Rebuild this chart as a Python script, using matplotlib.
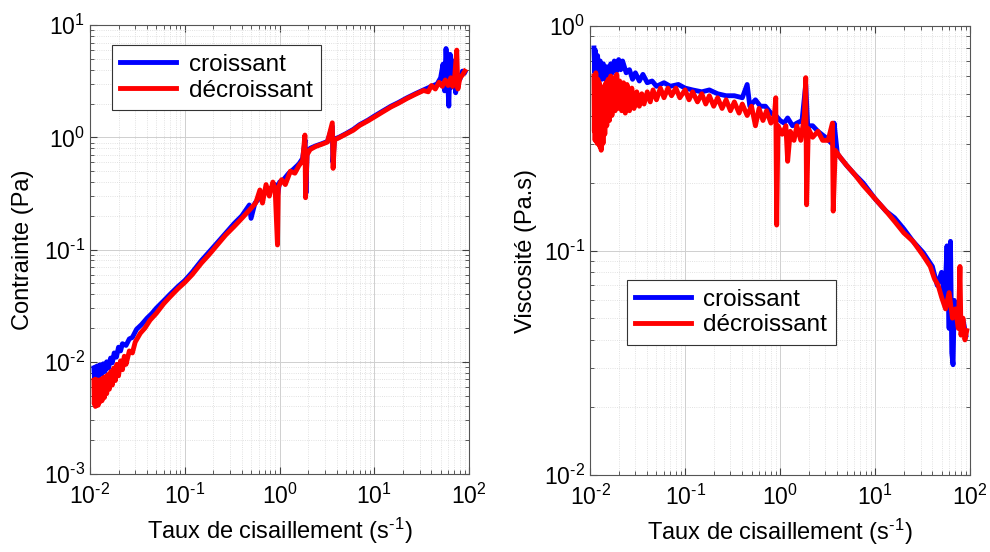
import matplotlib
matplotlib.use("Agg")
import numpy as np
import matplotlib.pyplot as plt
from matplotlib.ticker import LogLocator, NullFormatter, FuncFormatter

plt.rcParams['font.family'] = ['Liberation Sans', 'DejaVu Sans']
plt.rcParams['mathtext.fontset'] = 'custom'
plt.rcParams['mathtext.rm'] = 'Liberation Sans'
plt.rcParams['mathtext.it'] = 'Liberation Sans'
plt.rcParams['axes.unicode_minus'] = False

# contrainte, montée (croissant)
x_sc = [0.0110, 0.0112, 0.0114, 0.0117, 0.0120, 0.0124, 0.0128, 0.0133, 0.0138, 0.0144,
        0.0150, 0.0157, 0.0165, 0.0172, 0.0180, 0.0190, 0.020, 0.021, 0.022, 0.024,
        0.026, 0.028, 0.031, 0.035, 0.040, 0.045, 0.050, 0.060, 0.070, 0.085,
        0.10, 0.12, 0.15, 0.18, 0.22, 0.27, 0.33, 0.40, 0.48, 0.50,
        0.55, 0.62, 0.70, 0.80, 0.90, 0.95, 1.0, 1.1, 1.25, 1.4,
        1.6, 1.75, 1.86, 1.90, 1.95, 2.1, 2.4, 2.8, 3.2, 3.6,
        3.65, 3.8, 4.2, 5.0, 6.0, 7.0, 8.5, 10, 12, 15,
        18, 22, 27, 33, 40, 46, 50, 53, 55, 57,
        59, 61, 63, 65, 68, 72, 76, 80, 85, 90]
y_sc = [0.0088, 0.0068, 0.0090, 0.0070, 0.0092, 0.0074, 0.0094, 0.0078, 0.0096, 0.0082,
        0.0100, 0.0088, 0.0108, 0.0098, 0.0120, 0.0110, 0.0135, 0.0125, 0.0145, 0.0140,
        0.0160, 0.0165, 0.0195, 0.0215, 0.0245, 0.027, 0.030, 0.035, 0.040, 0.047,
        0.053, 0.063, 0.080, 0.095, 0.115, 0.140, 0.170, 0.200, 0.250, 0.190,
        0.260, 0.290, 0.320, 0.350, 0.380, 0.300, 0.400, 0.420, 0.480, 0.520,
        0.580, 0.650, 0.950, 0.320, 0.720, 0.80, 0.84, 0.88, 0.92, 1.25,
        0.60, 0.97, 1.00, 1.08, 1.18, 1.30, 1.42, 1.55, 1.70, 1.90,
        2.05, 2.25, 2.45, 2.65, 2.85, 3.0, 3.4, 4.5, 2.6, 6.2,
        3.5, 1.9, 5.5, 2.8, 4.8, 2.5, 3.6, 3.3, 3.9, 3.8]

# contrainte, descente (décroissant)
x_sd = [0.0110, 0.0111, 0.0113, 0.0114, 0.0116, 0.0118, 0.0120, 0.0122, 0.0125, 0.0128,
        0.0131, 0.0134, 0.0138, 0.0142, 0.0146, 0.0150, 0.0155, 0.0160, 0.0166, 0.0172,
        0.0178, 0.0185, 0.0192, 0.020, 0.021, 0.022, 0.023, 0.024, 0.026, 0.028,
        0.030, 0.034, 0.038, 0.043, 0.050, 0.060, 0.070, 0.085, 0.10, 0.12,
        0.15, 0.18, 0.22, 0.27, 0.33, 0.40, 0.48, 0.56, 0.62, 0.66,
        0.72, 0.78, 0.85, 0.90, 0.95, 0.97, 1.05, 1.15, 1.3, 1.45,
        1.6, 1.75, 1.85, 1.88, 1.95, 2.1, 2.4, 2.8, 3.2, 3.6,
        3.67, 3.8, 4.2, 5.0, 6.0, 7.0, 8.5, 10, 12, 15,
        18, 22, 27, 33, 37, 40, 44, 48, 52, 56,
        60, 64, 67, 70, 74, 76, 80, 85, 90]
y_sd = [0.0068, 0.0042, 0.0070, 0.0040, 0.0066, 0.0043, 0.0069, 0.0041, 0.0067, 0.0044,
        0.0070, 0.0045, 0.0072, 0.0048, 0.0074, 0.0052, 0.0077, 0.0057, 0.0082, 0.0062,
        0.0088, 0.0068, 0.0095, 0.0075, 0.0102, 0.0085, 0.0112, 0.0095, 0.0125, 0.0120,
        0.0150, 0.0180, 0.0200, 0.0235, 0.0270, 0.0330, 0.038, 0.045, 0.051, 0.060,
        0.076, 0.090, 0.110, 0.135, 0.160, 0.190, 0.225, 0.260, 0.340, 0.260,
        0.380, 0.300, 0.400, 0.330, 0.110, 0.360, 0.420, 0.380, 0.500, 0.480,
        0.560, 0.620, 1.050, 0.290, 0.700, 0.78, 0.83, 0.87, 0.91, 1.35,
        0.53, 0.95, 0.99, 1.07, 1.16, 1.28, 1.40, 1.52, 1.67, 1.87,
        2.02, 2.22, 2.42, 2.62, 2.55, 2.90, 2.70, 3.10, 2.85, 3.25,
        2.90, 3.40, 2.85, 3.30, 6.0, 2.7, 3.4, 3.6, 3.9]

# viscosité, montée (croissant)
x_vc = [0.0110, 0.0112, 0.0114, 0.0117, 0.0120, 0.0124, 0.0128, 0.0133, 0.0138, 0.0144,
        0.0150, 0.0157, 0.0165, 0.0172, 0.0180, 0.0190, 0.020, 0.021, 0.022, 0.024,
        0.026, 0.028, 0.030, 0.033, 0.036, 0.040, 0.045, 0.050, 0.060, 0.070,
        0.085, 0.10, 0.12, 0.15, 0.18, 0.22, 0.27, 0.33, 0.40, 0.45,
        0.48, 0.55, 0.62, 0.70, 0.80, 0.90, 1.0, 1.1, 1.2, 1.35,
        1.5, 1.7, 1.86, 1.95, 2.2, 2.5, 3.0, 3.5, 3.7, 4.0,
        5.0, 6.0, 7.5, 10, 13, 16, 20, 25, 32, 40,
        45, 50, 54, 57, 60, 62, 64, 66, 68, 72,
        76, 80, 85, 90]
y_vc = [0.80, 0.62, 0.78, 0.60, 0.74, 0.60, 0.70, 0.58, 0.68, 0.58,
        0.66, 0.60, 0.68, 0.62, 0.70, 0.63, 0.71, 0.64, 0.70, 0.62,
        0.64, 0.58, 0.62, 0.57, 0.61, 0.56, 0.57, 0.54, 0.56, 0.54,
        0.55, 0.53, 0.52, 0.51, 0.52, 0.50, 0.49, 0.49, 0.48, 0.55,
        0.44, 0.47, 0.44, 0.44, 0.41, 0.40, 0.38, 0.37, 0.39, 0.36,
        0.37, 0.38, 0.55, 0.36, 0.36, 0.34, 0.32, 0.30, 0.37, 0.27,
        0.24, 0.22, 0.20, 0.17, 0.15, 0.14, 0.125, 0.11, 0.098, 0.085,
        0.070, 0.080, 0.060, 0.105, 0.045, 0.110, 0.035, 0.031, 0.060, 0.048,
        0.055, 0.045, 0.048, 0.042]

# viscosité, descente (décroissant)
x_vd = [0.0110, 0.0111, 0.0112, 0.0113, 0.0115, 0.0116, 0.0118, 0.0119, 0.0121, 0.0123,
        0.0125, 0.0127, 0.0129, 0.0131, 0.0134, 0.0137, 0.0140, 0.0143, 0.0147, 0.0150,
        0.0155, 0.0160, 0.0165, 0.0170, 0.0177, 0.0184, 0.0191, 0.0198, 0.0205, 0.0215,
        0.0225, 0.0235, 0.0245, 0.026, 0.0275, 0.029, 0.031, 0.033, 0.035, 0.037,
        0.040, 0.043, 0.046, 0.050, 0.055, 0.060, 0.066, 0.072, 0.080, 0.088,
        0.10, 0.11, 0.12, 0.135, 0.15, 0.165, 0.18, 0.20, 0.22, 0.245,
        0.27, 0.30, 0.33, 0.37, 0.40, 0.45, 0.50, 0.55, 0.60, 0.66,
        0.72, 0.80, 0.87, 0.90, 0.92, 0.95, 1.05, 1.15, 1.20, 1.28,
        1.40, 1.50, 1.65, 1.80, 1.86, 1.90, 1.98, 2.2, 2.5, 2.8,
        3.2, 3.55, 3.62, 3.8, 4.3, 5.0, 6.0, 7.5, 10, 13,
        16, 20, 25, 32, 38, 42, 46, 50, 55, 60,
        65, 70, 75, 78, 80, 84, 88, 92]
y_vd = [0.60, 0.34, 0.58, 0.31, 0.62, 0.36, 0.55, 0.30, 0.58, 0.33,
        0.56, 0.29, 0.52, 0.28, 0.50, 0.30, 0.54, 0.33, 0.56, 0.36,
        0.58, 0.38, 0.60, 0.40, 0.59, 0.42, 0.61, 0.43, 0.57, 0.42,
        0.56, 0.41, 0.55, 0.42, 0.53, 0.43, 0.51, 0.44, 0.50, 0.45,
        0.51, 0.46, 0.52, 0.47, 0.53, 0.48, 0.53, 0.49, 0.53, 0.48,
        0.52, 0.47, 0.51, 0.46, 0.50, 0.45, 0.49, 0.44, 0.48, 0.43,
        0.47, 0.42, 0.46, 0.41, 0.45, 0.40, 0.44, 0.36, 0.43, 0.38,
        0.42, 0.37, 0.40, 0.48, 0.13, 0.36, 0.33, 0.36, 0.25, 0.34,
        0.31, 0.36, 0.31, 0.40, 0.59, 0.16, 0.35, 0.32, 0.34, 0.31,
        0.31, 0.37, 0.15, 0.28, 0.26, 0.24, 0.22, 0.195, 0.17, 0.15,
        0.135, 0.12, 0.11, 0.095, 0.085, 0.075, 0.070, 0.062, 0.055, 0.065,
        0.050, 0.055, 0.045, 0.085, 0.042, 0.050, 0.040, 0.044]

labels = ["croissant", "décroissant"]
xlabel = "Taux de cisaillement (s$^{\\text{-}1}$)"


def pow10(v, pos):
    e = int(round(np.log10(v)))
    if e < 0:
        return "$\\mathdefault{10^{\\text{-}%d}}$" % (-e)
    return "$\\mathdefault{10^{%d}}$" % e


fig = plt.figure(figsize=(9.9, 5.52), dpi=100)
ax1 = fig.add_axes([0.0909, 0.1413, 0.383, 0.813])
ax2 = fig.add_axes([0.596, 0.1395, 0.384, 0.813])


def style(ax, ylim):
    ax.set_xscale('log')
    ax.set_yscale('log')
    ax.set_xlim(1e-2, 1e2)
    ax.set_ylim(*ylim)
    ax.xaxis.set_major_locator(LogLocator(base=10, numticks=10))
    ax.xaxis.set_minor_locator(LogLocator(base=10, subs=range(2, 10), numticks=20))
    ax.yaxis.set_minor_locator(LogLocator(base=10, subs=range(2, 10), numticks=20))
    ax.xaxis.set_major_formatter(FuncFormatter(pow10))
    ax.yaxis.set_major_formatter(FuncFormatter(pow10))
    ax.xaxis.set_minor_formatter(NullFormatter())
    ax.yaxis.set_minor_formatter(NullFormatter())
    ax.grid(True, which='major', color='#cfcfcf', linewidth=0.7, linestyle='-')
    ax.grid(True, which='minor', color='#d8d8d8', linewidth=0.6, linestyle=':')
    ax.set_axisbelow(True)
    ax.tick_params(which='both', direction='in', top=True, right=True,
                   colors='#404040', labelcolor='black', labelsize=16.5)
    ax.tick_params(which='major', length=5)
    ax.tick_params(which='minor', length=3)
    ax.tick_params(axis='x', pad=7)
    for s in ax.spines.values():
        s.set_color('#555555')
        s.set_linewidth(0.8)
    ax.set_xlabel(xlabel, fontsize=17, labelpad=5)


ax1.plot(x_sc, y_sc, color='#0000ff', linewidth=3.5, label=labels[0])
ax1.plot(x_sd, y_sd, color='#ff0000', linewidth=3.5, label=labels[1])
style(ax1, (1e-3, 1e1))
ax1.set_ylabel("Contrainte (Pa)", fontsize=17, labelpad=7)
leg1 = ax1.legend(loc='upper left', bbox_to_anchor=(0.058, 0.955), fontsize=17.5,
                  fancybox=False, edgecolor='#333333', handlelength=2.3,
                  borderaxespad=0, framealpha=1, borderpad=0.35, labelspacing=0.15,
                  handletextpad=0.5)
leg1.get_frame().set_linewidth(0.8)

ax2.plot(x_vc, y_vc, color='#0000ff', linewidth=3.5, label=labels[0])
ax2.plot(x_vd, y_vd, color='#ff0000', linewidth=3.5, label=labels[1])
style(ax2, (1e-2, 1e0))
ax2.set_ylabel("Viscosité (Pa.s)", fontsize=17, labelpad=5)
leg2 = ax2.legend(loc='upper left', bbox_to_anchor=(0.097, 0.434), fontsize=17.5,
                  fancybox=False, edgecolor='#333333', handlelength=2.3,
                  borderaxespad=0, framealpha=1, borderpad=0.35, labelspacing=0.15,
                  handletextpad=0.5)
leg2.get_frame().set_linewidth(0.8)

fig.savefig("out.png", dpi=100)
